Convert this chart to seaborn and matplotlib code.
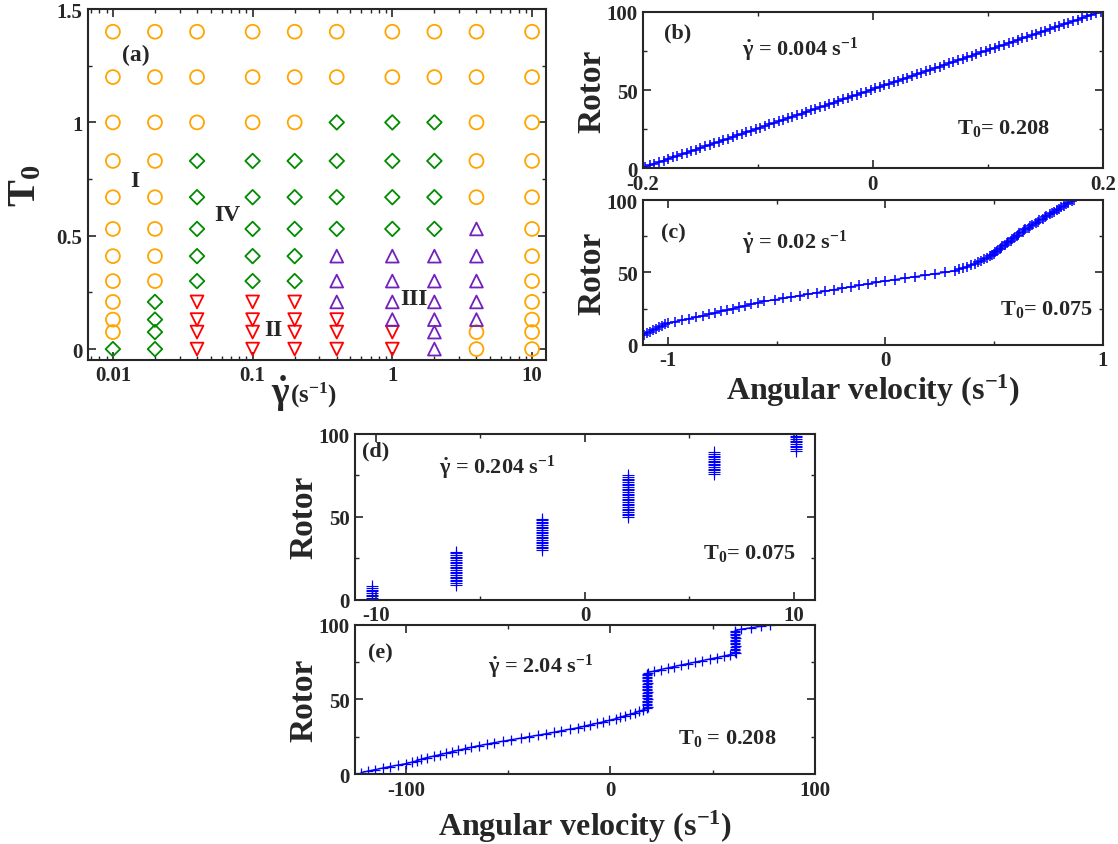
import numpy as np
import pandas as pd
import seaborn as sns
import matplotlib.pyplot as plt
from matplotlib.ticker import MultipleLocator, NullFormatter

# phase diagram (a): shear rates, T0 rows and phase code per cell
gamma_values = [0.01, 0.02, 0.04, 0.1, 0.2, 0.4, 1, 2, 4, 10]
t0_values = [1.4, 1.2, 1.0, 0.83, 0.67, 0.53, 0.41, 0.3, 0.208, 0.13, 0.075, 0.0]
# O = phase I, D = phase IV, V = phase II, A = phase III
phase_rows = [
    "OOOOOOOOOO",
    "OOOOOOOOOO",
    "OOOOODDDOO",
    "OODDDDDDOO",
    "OODDDDDDOO",
    "OODDDDDDAO",
    "OODDDAAAAO",
    "OODDDAAAAO",
    "ODVVVAAAAO",
    "ODVVVVAAAO",
    "ODVVVVVAOO",
    "DDVVVVVAOO",
]

# (b) gamma = 0.004, T0 = 0.208
rotor_b = list(range(1, 101))
omega_b = [-0.198, -0.194, -0.190, -0.186, -0.182, -0.178, -0.174, -0.170, -0.166, -0.162,
           -0.158, -0.154, -0.150, -0.146, -0.142, -0.138, -0.134, -0.130, -0.126, -0.122,
           -0.118, -0.114, -0.110, -0.106, -0.102, -0.098, -0.094, -0.090, -0.086, -0.082,
           -0.078, -0.074, -0.070, -0.066, -0.062, -0.058, -0.054, -0.050, -0.046, -0.042,
           -0.038, -0.034, -0.030, -0.026, -0.022, -0.018, -0.014, -0.010, -0.006, -0.002,
           0.002, 0.006, 0.010, 0.014, 0.018, 0.022, 0.026, 0.030, 0.034, 0.038,
           0.042, 0.046, 0.050, 0.054, 0.058, 0.062, 0.066, 0.070, 0.074, 0.078,
           0.082, 0.086, 0.090, 0.094, 0.098, 0.102, 0.106, 0.110, 0.114, 0.118,
           0.122, 0.126, 0.130, 0.134, 0.138, 0.142, 0.146, 0.150, 0.154, 0.158,
           0.162, 0.166, 0.170, 0.174, 0.178, 0.182, 0.186, 0.190, 0.194, 0.198]

# (c) gamma = 0.02, T0 = 0.075 (rotors below 7 lie off the left edge)
rotor_c = list(range(7, 101))
omega_c = [-1.112, -1.098, -1.084, -1.070, -1.056, -1.042, -1.028, -1.014, -0.998,
           -0.966, -0.934, -0.902, -0.870, -0.840,
           -0.812, -0.784, -0.756, -0.728, -0.700, -0.672, -0.644, -0.616, -0.588, -0.560,
           -0.510, -0.471, -0.432, -0.393, -0.354, -0.315, -0.276, -0.237, -0.198, -0.159,
           -0.120, -0.081, -0.042, -0.003,
           0.043, 0.089, 0.135, 0.181, 0.227, 0.273, 0.319,
           0.338, 0.357, 0.376, 0.395, 0.414,
           0.427, 0.440, 0.453, 0.466, 0.479,
           0.488, 0.499, 0.505, 0.511, 0.526, 0.531, 0.537, 0.552, 0.557, 0.563,
           0.579, 0.583, 0.590, 0.605, 0.609, 0.615, 0.631, 0.636, 0.643,
           0.659, 0.667, 0.675, 0.692, 0.700, 0.707, 0.725, 0.733, 0.740, 0.758,
           0.766, 0.773, 0.791, 0.799, 0.806, 0.823, 0.832, 0.840, 0.856, 0.865]

# (d) gamma = 0.204, T0 = 0.075: rotors lock into six clusters
cluster_omega = [-10.2, -6.15, -2.05, 2.05, 6.15, 10.1]
cluster_first = [1, 9, 30, 50, 76, 90]
cluster_last = [8, 29, 49, 75, 89, 100]

# (e) gamma = 2.04, T0 = 0.208
rotor_e = list(range(1, 101))
omega_e = [-122, -118.5, -115, -111.5, -108, -104, -100, -97, -94.5, -92.5,
           -90, -86.5, -83.5, -80.5, -77.5, -74.5, -71, -68, -64.5, -60.5,
           -57, -52.5, -48.5, -44, -40, -35.5, -31.5, -27.5, -24, -20,
           -16, -13, -10, -6.5, -3.5, -0.5, 2.5, 4.5, 7, 9.5,
           12, 14, 16, 18,
           18.2, 17.9, 18.1, 18.0, 17.8, 18.2, 18.0, 17.9, 18.1, 18.0, 18.2, 17.9,
           18.0, 18.1, 17.8, 18.0, 18.2, 17.9, 18.1, 18.0, 17.9, 18.1, 18.0, 18.2,
           21.5, 24.5, 28.0, 31.0, 34.5, 38.0, 41.5, 45.0, 48.5, 52.0, 55.5, 58.5,
           61.2, 60.9, 61.1, 61.0, 60.8, 61.2, 61.0, 60.9, 61.1, 61.0, 61.2, 60.9,
           61.0, 61.1, 60.8, 61.0,
           64.0, 68.9, 73.8, 77.8]

sns.set_style("ticks")
plt.rcParams["font.family"] = ["Liberation Serif", "DejaVu Serif"]
plt.rcParams["font.weight"] = "bold"
plt.rcParams["axes.labelweight"] = "bold"
plt.rcParams["mathtext.fontset"] = "custom"
plt.rcParams["mathtext.rm"] = "Liberation Serif:bold"
plt.rcParams["mathtext.it"] = "Liberation Serif:bold"
plt.rcParams["mathtext.bf"] = "Liberation Serif:bold"
plt.rcParams["axes.linewidth"] = 1.5

fig = plt.figure(figsize=(11.18, 8.45), dpi=100)
ax_a = fig.add_axes([0.0786, 0.5731, 0.4101, 0.4150])
ax_b = fig.add_axes([0.5751, 0.7996, 0.4114, 0.1853])
ax_c = fig.add_axes([0.5751, 0.5909, 0.4114, 0.1712])
ax_d = fig.add_axes([0.3175, 0.2891, 0.4114, 0.1961])
ax_e = fig.add_axes([0.3175, 0.0828, 0.4114, 0.1767])

# ---- panel (a): phase diagram
rec = []
for t0, row in zip(t0_values, phase_rows):
    for g, code in zip(gamma_values, row):
        rec.append((g, t0, code))
phase_df = pd.DataFrame(rec, columns=["gamma", "T0", "phase"])

phase_style = {"O": ("o", "#FFA500", 100),
               "D": ("D", "#008B00", 55),
               "V": ("v", "#FF0000", 85),
               "A": ("^", "#7221BC", 85)}
for code, (mk, col, size) in phase_style.items():
    sub = phase_df[phase_df["phase"] == code]
    sns.scatterplot(data=sub, x="gamma", y="T0", marker=mk, s=size, color=col,
                    facecolor="none", edgecolor=col, linewidth=1.3, ax=ax_a)

ax_a.set_xscale("log")
ax_a.set_xlim(0.00662, 12.66)
ax_a.set_ylim(-0.047, 1.5)
ax_a.set_xticks([0.01, 0.1, 1, 10], ["0.01", "0.1", "1", "10"])
ax_a.xaxis.set_minor_formatter(NullFormatter())
ax_a.set_yticks([0, 0.5, 1, 1.5], ["0", "0.5", "1", "1.5"])
ax_a.yaxis.set_minor_locator(MultipleLocator(0.25))
ax_a.set_xlabel("")
ax_a.set_ylabel("T$_0$", fontsize=29, va="center")
ax_a.yaxis.set_label_coords(-0.135, 0.5)

ax_a.text(0.0116, 1.30, "(a)", fontsize=17, va="center")
ax_a.text(0.0143, 0.745, "I", fontsize=17, ha="center", va="center")
ax_a.text(0.066, 0.595, "IV", fontsize=17, ha="center", va="center")
ax_a.text(0.14, 0.085, "II", fontsize=17, ha="center", va="center")
ax_a.text(1.43, 0.225, "III", fontsize=17, ha="center", va="center")

fig.text(0.2424, 0.534, r"$\dot{\gamma}$", fontsize=27, ha="left", va="center")
fig.text(0.2590, 0.532, "(s$^{-1}$)", fontsize=18, ha="left", va="center")

# ---- panels (b), (c), (e): rotor vs angular velocity
line_kw = dict(sort=False, estimator=None, color="blue", lw=1, marker="+",
               markersize=7, mec="blue", mew=1.1)
sns.lineplot(x=omega_b, y=rotor_b, ax=ax_b, **line_kw)
sns.lineplot(x=omega_c, y=rotor_c, ax=ax_c, **line_kw)
sns.lineplot(x=omega_e, y=rotor_e, ax=ax_e, **dict(line_kw, mew=0.9))

# ---- panel (d): clustered rotors
omega_d, rotor_d = [], []
for w, r0, r1 in zip(cluster_omega, cluster_first, cluster_last):
    for r in range(r0, r1 + 1):
        omega_d.append(w)
        rotor_d.append(r)
sns.scatterplot(x=omega_d, y=rotor_d, marker="+", s=70, color="blue",
                linewidth=0.8, ax=ax_d)

ax_b.set_xlim(-0.2, 0.2)
ax_b.set_xticks([-0.2, 0, 0.2], ["-0.2", "0", "0.2"])
ax_b.xaxis.set_minor_locator(MultipleLocator(0.1))

ax_c.set_xlim(-1.115, 1.0)
ax_c.set_xticks([-1, 0, 1], ["-1", "0", "1"])
ax_c.xaxis.set_minor_locator(MultipleLocator(0.5))

ax_d.set_xlim(-11, 11)
ax_d.set_xticks([-10, 0, 10], ["-10", "0", "10"])
ax_d.xaxis.set_minor_locator(MultipleLocator(5))

ax_e.set_xlim(-125, 100)
ax_e.set_xticks([-100, 0, 100], ["-100", "0", "100"])
ax_e.xaxis.set_minor_locator(MultipleLocator(50))

for ax in [ax_b, ax_c, ax_d, ax_e]:
    ax.set_ylim(0, 100)
    ax.set_yticks([0, 50, 100], ["0", "50", "100"])
    ax.yaxis.set_minor_locator(MultipleLocator(25))
    ax.set_xlabel("")
    ax.set_ylabel("Rotor", fontsize=24, va="center")
    ax.yaxis.set_label_coords(-0.11, 0.5)

for ax in [ax_a, ax_b, ax_c, ax_d, ax_e]:
    ax.tick_params(which="both", direction="in", top=True, right=True,
                   labelsize=15, pad=4)
    ax.tick_params(which="major", length=6, width=1.2)
    ax.tick_params(which="minor", length=3, width=1.0)
    for lab in ax.get_xticklabels() + ax.get_yticklabels():
        lab.set_fontweight("bold")

ax_c.set_xlabel("Angular velocity (s$^{-1}$)", fontsize=23, va="center")
ax_c.xaxis.set_label_coords(0.5, -0.31)
ax_e.set_xlabel("Angular velocity (s$^{-1}$)", fontsize=23, va="center")
ax_e.xaxis.set_label_coords(0.5, -0.35)

# annotations
ann = 16
ax_b.text(-0.182, 86.8, "(b)", fontsize=ann, va="center")
ax_b.text(-0.114, 76, r"$\dot{\gamma}$ = 0.004 s$^{-1}$", fontsize=ann, va="center")
ax_b.text(0.073, 26, "T$_0$= 0.208", fontsize=ann, va="center")

ax_c.text(-1.03, 77.7, "(c)", fontsize=ann, va="center")
ax_c.text(-0.66, 70.8, r"$\dot{\gamma}$ = 0.02 s$^{-1}$", fontsize=ann, va="center")
ax_c.text(0.525, 24.7, "T$_0$= 0.075", fontsize=ann, va="center")

ax_d.text(-10.68, 89.9, "(d)", fontsize=ann, va="center")
ax_d.text(-6.97, 79.9, r"$\dot{\gamma}$ = 0.204 s$^{-1}$", fontsize=ann, va="center")
ax_d.text(5.66, 28.6, "T$_0$= 0.075", fontsize=ann, va="center")

ax_e.text(-118.4, 81.5, "(e)", fontsize=ann, va="center")
ax_e.text(-59.8, 72.5, r"$\dot{\gamma}$ = 2.04 s$^{-1}$", fontsize=ann, va="center")
ax_e.text(33.0, 24.6, "T$_0$ = 0.208", fontsize=ann, va="center")

fig.savefig("out.png", dpi=100)
